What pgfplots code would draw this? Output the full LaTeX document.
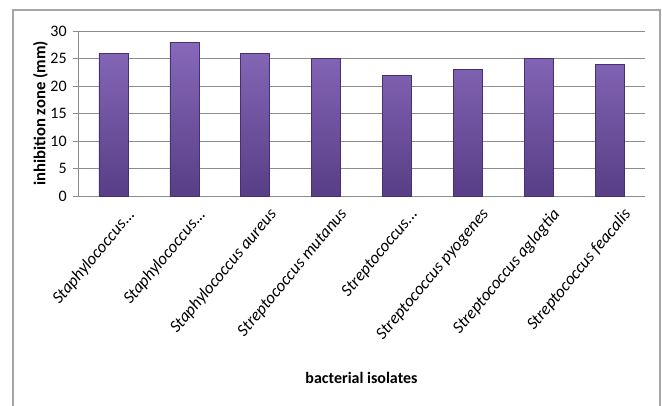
\documentclass[border=0pt]{standalone}
\usepackage{pgfplots}
\pgfplotsset{compat=1.18}
\usepackage{fontspec}
\setmainfont{Carlito}
\definecolor{barTop}{HTML}{8768BA}
\definecolor{barBot}{HTML}{583E86}
\definecolor{barEdge}{HTML}{47306F}
\definecolor{gridC}{HTML}{8C8C8C}
\begin{document}
\begin{tikzpicture}
% 1 px = 0.75pt, origin at bottom-left of the 662x405 picture
\useasboundingbox (0,0) rectangle (496.5pt,303.75pt);
\draw[gray!70, line width=0.8pt] (9.75pt,-10pt) rectangle (495pt,296.25pt);
\begin{axis}[
    at={(58.5pt,156.75pt)}, anchor=south west,
    scale only axis,
    width=425.25pt, height=123.75pt,
    ymin=0, ymax=30, ytick={0,5,10,15,20,25,30},
    xmin=-0.5, xmax=7.5,
    xtick={0,1,2,3,4,5,6,7},
    xticklabels={{Staphylococcus.{}.{}.}, {Staphylococcus.{}.{}.}, {Staphylococcus aureus}, {Streptococcus mutanus}, {Streptococcus.{}.{}.}, {Streptococcus pyogenes}, {Streptococcus aglagtia}, {Streptococcus feacalis}},
    xticklabel style={rotate=50, anchor=north east, font=\itshape\fontsize{12.8}{13}\selectfont, inner sep=1pt, xshift=4pt, yshift=-9pt},
    yticklabel style={font=\fontsize{12}{12}\selectfont, xshift=-1pt},
    /pgf/number format/assume math mode=true,
    axis x line*=bottom, axis y line*=left,
    axis line style={gridC},
    x axis line style={-}, y axis line style={-},
    major tick length=4pt,
    ytick style={gridC}, xtick style={draw=none},
    tick align=outside,
    ymajorgrids=true,
    grid style={gridC, line width=0.6pt},
    ylabel={\bfseries inhibition zone (mm)},
    ylabel style={font=\fontsize{12.5}{12}\selectfont, yshift=-5pt},
    xlabel={\bfseries bacterial isolates},
    xlabel style={font=\fontsize{12}{12}\selectfont, at={(rel axis cs:0.5,0)}, anchor=center, yshift=-136.5pt},
]
\addplot[ybar, bar width=21.75pt, top color=barTop, bottom color=barBot, draw=barEdge, line width=0.4pt]
coordinates {(0,26) (1,28) (2,26) (3,25) (4,22) (5,23) (6,25) (7,24)};
\end{axis}
\end{tikzpicture}
\end{document}
